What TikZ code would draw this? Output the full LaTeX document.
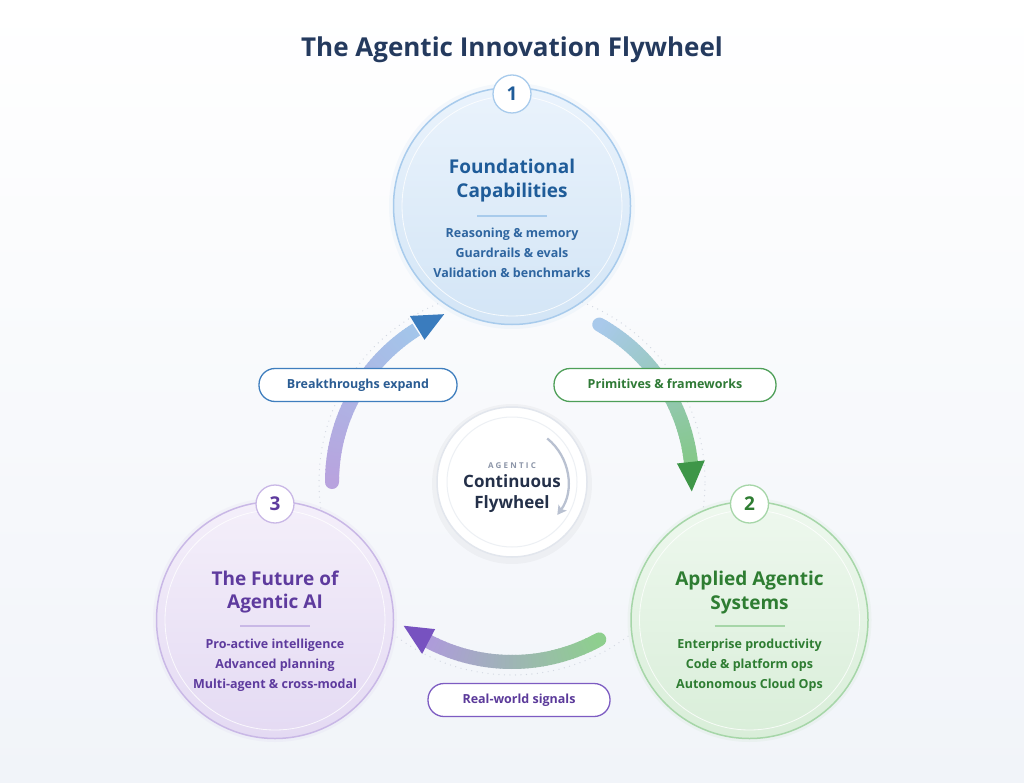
\documentclass[tikz,border=0pt]{standalone}
\usepackage{fontspec}
\setmainfont{Open Sans}
\usetikzlibrary{calc,arrows.meta}
\definecolor{bgB}{HTML}{F1F4F9}
\definecolor{titlec}{HTML}{243A5E}
\definecolor{blueT}{HTML}{1F5C99}
\definecolor{blueI}{HTML}{2E65A0}
\definecolor{blueB}{HTML}{A8CBEC}
\definecolor{blueF1}{HTML}{EAF3FC}
\definecolor{blueF2}{HTML}{D3E5F6}
\definecolor{greenT}{HTML}{2E7D32}
\definecolor{greenB}{HTML}{A6D6A8}
\definecolor{greenF1}{HTML}{EEF8EE}
\definecolor{greenF2}{HTML}{D9EED9}
\definecolor{purpT}{HTML}{5E3B9E}
\definecolor{purpB}{HTML}{C9B8E6}
\definecolor{purpF1}{HTML}{F4EFFA}
\definecolor{purpF2}{HTML}{E4DAF3}
\definecolor{aOneS}{HTML}{A9C9EB}
\definecolor{aOneE}{HTML}{84C888}
\definecolor{aOneH}{HTML}{3E9648}
\definecolor{aTwoS}{HTML}{8ECF8E}
\definecolor{aTwoE}{HTML}{AE9BDB}
\definecolor{aTwoH}{HTML}{7752C0}
\definecolor{aThrS}{HTML}{B8A3DE}
\definecolor{aThrE}{HTML}{A3C5EA}
\definecolor{aThrH}{HTML}{3A7CBE}
\definecolor{ringc}{HTML}{D3D8E2}
\definecolor{hubB}{HTML}{E2E6ED}
\definecolor{hubI}{HTML}{EDF0F4}
\definecolor{hubT}{HTML}{243049}
\definecolor{hubS}{HTML}{8C95A8}
\definecolor{hubA}{HTML}{B9C1D1}
\definecolor{pillOneB}{HTML}{3F7EBE}
\definecolor{pillOneT}{HTML}{2A5C93}
\definecolor{pillTwoB}{HTML}{4E9F58}
\definecolor{pillTwoT}{HTML}{2F7A36}
\definecolor{pillThrB}{HTML}{7D5CC2}
\definecolor{pillThrT}{HTML}{5B3A9A}
\newcommand\gradarc[4]{%
  \foreach \k in {0,...,47}{%
    \pgfmathsetmacro\aa{#1+(#2-#1)*\k/48}%
    \pgfmathsetmacro\ab{#1+(#2-#1)*(\k+1.3)/48}%
    \pgfmathsetmacro\pc{100*\k/47}%
    \ifnum\k=0
      \draw[line width=14pt, line cap=round, color=#4!\pc!#3] ($(C)+(\aa:180)$) arc[start angle=\aa, end angle=\ab, radius=180];
    \else
      \draw[line width=14pt, color=#4!\pc!#3] ($(C)+(\aa:180)$) arc[start angle=\aa, end angle=\ab, radius=180];
    \fi
  }}
\tikzset{
  bigcirc/.style={circle, minimum size=237pt, line width=1.5pt, inner sep=0},
  badge/.style={circle, minimum size=38pt, fill=white, line width=1.3pt, inner sep=0,
    font=\bfseries\fontsize{19}{19}\selectfont},
  ctitle/.style={anchor=base, inner sep=0, font=\bfseries\fontsize{19}{19}\selectfont},
  citem/.style={anchor=base, inner sep=0, font=\bfseries\fontsize{12.5}{12.5}\selectfont},
  pill/.style={draw=#1, line width=1.3pt, fill=white, rounded corners=16pt,
    minimum height=33pt, text height=9.5pt, text depth=3pt, inner xsep=0,
    font=\bfseries\fontsize{12.5}{12.5}\selectfont},
}
\begin{document}
\begin{tikzpicture}[x=1pt,y=1pt]
\useasboundingbox (0,0) rectangle (1024,-783);
\shade[top color=white, bottom color=bgB] (0,0) rectangle (1024,-783);
\coordinate (C) at (512,-482);

% title
\node[anchor=base, inner sep=0, text=titlec, font=\bfseries\fontsize{26}{26}\selectfont] (title) at (512,-57) {The Agentic Innovation Flywheel};

% dotted ring
\draw[ringc, line width=1.3pt, line cap=round, dash pattern=on 0pt off 5.5pt] (C) circle[radius=193];

% gradient arrows
\gradarc{61}{5.5}{aOneS}{aOneE}
\fill[aOneH] ($(C)+(-3:180)$) -- ($(C)+(6.4:166)$) -- ($(C)+(6.4:194)$) -- cycle;
\gradarc{-61}{-118.5}{aTwoS}{aTwoE}
\fill[aTwoH] ($(C)+(-127:180)$) -- ($(C)+(-117.6:166)$) -- ($(C)+(-117.6:194)$) -- cycle;
\gradarc{180}{122.5}{aThrS}{aThrE}
\fill[aThrH] ($(C)+(112:181)$) -- ($(C)+(121.6:167)$) -- ($(C)+(121.6:195)$) -- cycle;

% hub
\fill[black, opacity=0.03] (512,-484) circle[radius=80];
\node[circle, minimum size=150pt, fill=white, draw=hubB, line width=1.5pt, inner sep=0] (hub) at (C) {};
\draw[hubI, line width=1pt] (hub.center) circle[radius=65];
\draw[hubA, line width=2.3pt, -{Stealth[length=9pt,width=10pt,inset=2pt]}] ($(C)+(51:56)$) arc[start angle=51, end angle=-36, radius=56];
\node[anchor=base, inner sep=0, text=hubS, font=\bfseries\fontsize{8}{8}\selectfont\addfontfeature{LetterSpace=28}] (hubsmall) at (512,-468) {AGENTIC};
\node[anchor=base, inner sep=0, text=hubT, font=\bfseries\fontsize{17}{17}\selectfont] (hubl1) at (512,-487) {Continuous};
\node[anchor=base, inner sep=0, text=hubT, font=\bfseries\fontsize{17}{17}\selectfont] (hubl2) at (512,-508) {Flywheel};

% circle 1
\fill[blueB, opacity=0.1] (512,-206) circle[radius=123];
\node[bigcirc, draw=blueB, top color=blueF1, bottom color=blueF2] (c1) at (512,-206) {};
\draw[white, opacity=0.8, line width=0.8pt] (c1.center) circle[radius=110];
\node[badge, draw=blueB, text=blueT] (b1) at (512,-94) {1};
\node[ctitle, text=blueT] (t1a) at (512,-174) {Foundational};
\node[ctitle, text=blueT] (t1b) at (512,-198) {Capabilities};
\draw[blueB, line width=1.5pt] (477,-216) -- (547,-216);
\node[citem, text=blueI] (i1a) at (512,-238) {Reasoning \& memory};
\node[citem, text=blueI] (i1b) at (512,-257.5) {Guardrails \& evals};
\node[citem, text=blueI] (i1c) at (512,-277) {Validation \& benchmarks};

% circle 2
\fill[greenB, opacity=0.1] (749.5,-620) circle[radius=122];
\node[bigcirc, draw=greenB, top color=greenF1, bottom color=greenF2] (c2) at (749.5,-620) {};
\draw[white, opacity=0.8, line width=0.8pt] (c2.center) circle[radius=110];
\node[badge, draw=greenB, text=greenT] (b2) at (749.5,-504) {2};
\node[ctitle, text=greenT] (t2a) at (749.5,-585) {Applied Agentic};
\node[ctitle, text=greenT] (t2b) at (749.5,-609) {Systems};
\draw[greenB, line width=1.5pt] (714.5,-626) -- (784.5,-626);
\node[citem, text=greenT] (i2a) at (749.5,-648) {Enterprise productivity};
\node[citem, text=greenT] (i2b) at (749.5,-668) {Code \& platform ops};
\node[citem, text=greenT] (i2c) at (749.5,-688) {Autonomous Cloud Ops};

% circle 3
\fill[purpB, opacity=0.1] (275,-620) circle[radius=122];
\node[bigcirc, draw=purpB, top color=purpF1, bottom color=purpF2] (c3) at (275,-620) {};
\draw[white, opacity=0.8, line width=0.8pt] (c3.center) circle[radius=110];
\node[badge, draw=purpB, text=purpT] (b3) at (275,-504) {3};
\node[ctitle, text=purpT] (t3a) at (275,-585) {The Future of};
\node[ctitle, text=purpT] (t3b) at (275,-608) {Agentic AI};
\draw[purpB, line width=1.5pt] (240,-626) -- (310,-626);
\node[citem, text=purpT] (i3a) at (275,-648) {Pro-active intelligence};
\node[citem, text=purpT] (i3b) at (275,-668) {Advanced planning};
\node[citem, text=purpT] (i3c) at (275,-688) {Multi-agent \& cross-modal};

% pills
\node[pill=pillOneB, minimum width=198pt, text=pillOneT] (p1) at (358,-385) {Breakthroughs expand};
\node[pill=pillTwoB, minimum width=222pt, text=pillTwoT] (p2) at (665,-385) {Primitives \& frameworks};
\node[pill=pillThrB, minimum width=182pt, text=pillThrT] (p3) at (519,-700) {Real-world signals};
\end{tikzpicture}
\end{document}
